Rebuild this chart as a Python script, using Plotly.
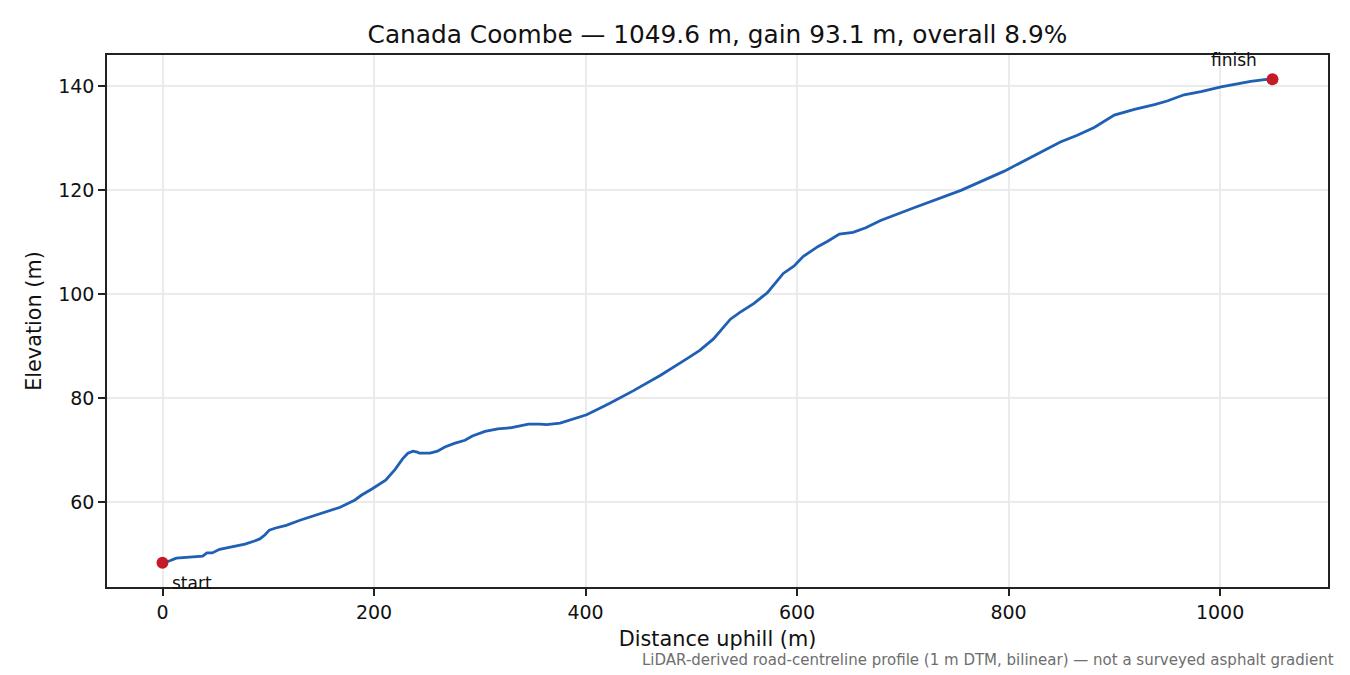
import plotly.graph_objects as go

# profile samples
distance_m = [0, 7, 13, 25, 31, 38, 42, 47, 54, 65, 78, 87, 92, 97, 101, 107, 117, 130,
              149, 168, 182, 188, 198, 205, 211, 220, 227, 232, 237, 241, 243, 253, 260,
              267, 276, 286, 293, 305, 317, 329, 338, 346, 357, 363, 376, 389, 401, 414,
              423, 445, 471, 496, 508, 521, 530, 537, 546, 559, 572, 580, 587, 597, 606,
              620, 629, 640, 653, 665, 679, 710, 729, 755, 796, 818, 849, 865, 881, 900,
              919, 938, 950, 966, 982, 1001, 1014, 1029, 1042, 1049.6]
elevation_m = [48.3, 48.7, 49.2, 49.4, 49.6, 49.6, 50.2, 50.2, 50.9, 51.3, 51.9, 52.5, 52.9,
               53.7, 54.6, 55.0, 55.5, 56.5, 57.7, 59.0, 60.4, 61.3, 62.5, 63.5, 64.2, 66.3,
               68.3, 69.4, 69.8, 69.6, 69.4, 69.4, 69.8, 70.6, 71.3, 71.9, 72.7, 73.6, 74.1,
               74.3, 74.6, 75.0, 75.0, 74.9, 75.2, 76.0, 76.8, 78.1, 79.0, 81.4, 84.4, 87.6,
               89.2, 91.4, 93.5, 95.2, 96.5, 98.2, 100.3, 102.2, 104.0, 105.4, 107.3, 109.2,
               110.2, 111.6, 111.9, 112.8, 114.2, 116.6, 118.1, 120.0, 123.7, 126.0, 129.3,
               130.6, 132.1, 134.5, 135.6, 136.5, 137.2, 138.4, 139.0, 139.9, 140.4, 141.0,
               141.3, 141.4]
end_labels = ["start", "finish"]

title = "Canada Coombe — 1049.6 m, gain 93.1 m, overall 8.9%"
note = "LiDAR-derived road-centreline profile (1 m DTM, bilinear) — not a surveyed asphalt gradient"

font = "DejaVu Sans, Liberation Sans, sans-serif"
line_col = "#1f5fb4"
dot_col = "#c41a2a"

ends_x = [distance_m[0], distance_m[-1]]
ends_y = [elevation_m[0], elevation_m[-1]]

fig = go.Figure()
fig.add_trace(go.Scatter(x=distance_m, y=elevation_m, mode="lines",
                         line=dict(color=line_col, width=2.8), showlegend=False))
fig.add_trace(go.Scatter(x=ends_x, y=ends_y, mode="markers",
                         marker=dict(color=dot_col, size=12), showlegend=False))

# endpoint labels, offset like the matplotlib annotations
fig.add_annotation(x=ends_x[0], y=ends_y[0], text=end_labels[0], showarrow=False,
                   xanchor="left", yanchor="middle", xshift=7, yshift=-20,
                   font=dict(size=17, color="#111"))
fig.add_annotation(x=ends_x[1], y=ends_y[1], text=end_labels[1], showarrow=False,
                   xanchor="center", yanchor="middle", xshift=-39, yshift=19,
                   font=dict(size=17, color="#111"))

fig.add_annotation(xref="paper", yref="paper", x=1, y=0, xshift=8, yshift=-73, text=note,
                   showarrow=False, xanchor="right", yanchor="middle",
                   font=dict(size=15, color="#6e6e6e"))

span_x = distance_m[-1] - distance_m[0]
span_y = max(elevation_m) - min(elevation_m)

axis_style = dict(showline=True, linecolor="#222", linewidth=1.5, mirror=True,
                  ticks="outside", ticklen=7, tickcolor="#222", tickwidth=1.5,
                  showgrid=True, gridcolor="#ebebeb", gridwidth=1.5, zeroline=False,
                  tickfont=dict(size=19, color="#111"))

# page body adds an 8 px offset, so the figure is 8 px smaller than the window
fig.update_layout(
    width=1342, height=667,
    paper_bgcolor="white", plot_bgcolor="white",
    font=dict(family=font, color="#111"),
    margin=dict(l=99, r=22, t=47, b=88),
    title=dict(text=title, xref="paper", x=0.5, xanchor="center",
               yref="container", y=0.961, yanchor="middle",
               font=dict(size=24.8, color="#111")),
    xaxis=dict(range=[distance_m[0] - 0.05 * span_x, distance_m[-1] + 0.05 * span_x],
               dtick=200, title=dict(text="Distance uphill (m)", font=dict(size=20.8), standoff=10),
               **axis_style),
    yaxis=dict(range=[min(elevation_m) - 0.05 * span_y, max(elevation_m) + 0.05 * span_y],
               dtick=20, title=dict(text="Elevation (m)", font=dict(size=20.8), standoff=11),
               **axis_style),
)

fig.write_html("out.html")
